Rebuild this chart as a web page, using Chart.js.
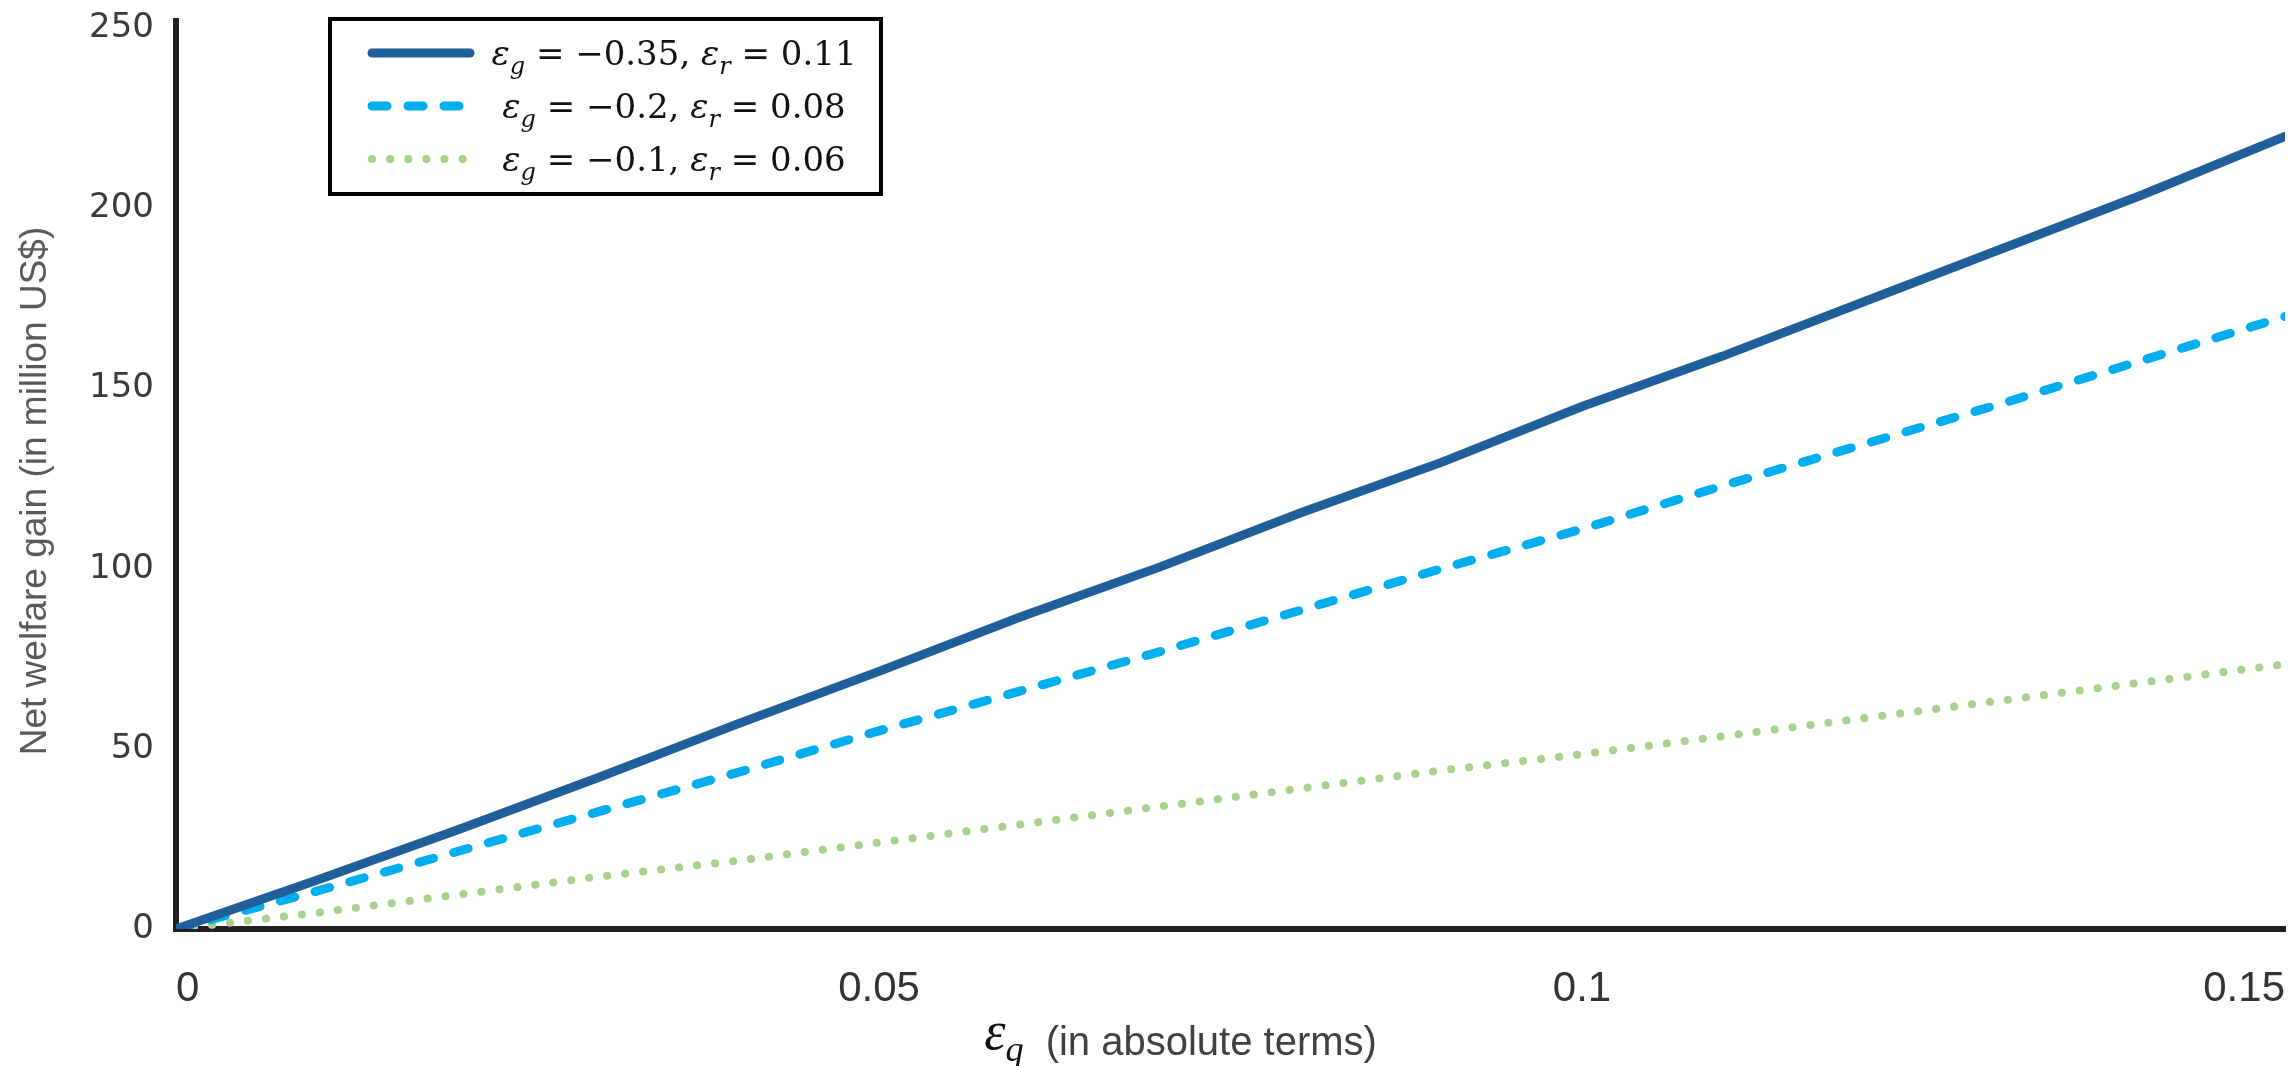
<!DOCTYPE html>
<html>
<head>
<meta charset="utf-8">
<script src="https://cdn.jsdelivr.net/npm/chart.js@4.4.0/dist/chart.umd.min.js"></script>
<style>
  html, body { margin: 0; padding: 0; background: #fff; }
  #wrap { width: 2292px; height: 1066px; }
</style>
</head>
<body>
<div id="wrap"><canvas id="welfareChart" width="2292" height="1066"></canvas></div>
<script>
// Elasticity of demand (absolute terms) on the x axis
var epsQ = [0, 0.01, 0.02, 0.03, 0.04, 0.05, 0.06, 0.07, 0.08, 0.09, 0.1, 0.11, 0.12, 0.13, 0.14, 0.15];

// Net welfare gain, million US$, one array per scenario
var gainHigh = [0, 13.5, 27.5, 42, 57, 71.5, 86.5, 100.5, 115.5, 129.5, 145, 159, 174, 189, 204, 220];
var gainMid = [0, 10.5, 21.5, 32.5, 43.5, 55, 66, 77, 88.5, 100, 111, 123, 134.5, 146, 158, 170];
var gainLow = [0, 4.5, 9.5, 14.5, 19, 24, 29, 34, 39, 44, 48.5, 53.5, 58.5, 63.5, 68.5, 73.5];

var seriesLabels = ['ε_g = −0.35, ε_r = 0.11', 'ε_g = −0.2, ε_r = 0.08', 'ε_g = −0.1, ε_r = 0.06'];
var xTicks = [0, 0.05, 0.1, 0.15];
var yTicks = [0, 50, 100, 150, 200, 250];
var yTitleText = 'Net welfare gain (in million US$)';

function toPoints(ys) {
  return ys.map(function (y, i) { return { x: epsQ[i], y: y }; });
}

var mathFamily = '"DejaVu Serif", "Liberation Serif", serif';
var sansFamily = '"Liberation Sans Narrow", "Liberation Sans", sans-serif';

// draws text like "ε_g = 0.1" with italic epsilon and a subscript
function drawMath(ctx, text, cx, baseY, size) {
  var tokens = text.split(/(ε_\w)/).filter(function (t) { return t.length; });
  var mainFont = size + 'px ' + mathFamily;
  var italFont = 'italic ' + size + 'px ' + mathFamily;
  var subFont = 'italic ' + Math.round(size * 0.72) + 'px ' + mathFamily;
  var pieces = [];
  tokens.forEach(function (t) {
    if (/^ε_\w$/.test(t)) {
      pieces.push({ s: 'ε', font: italFont, dy: 0 });
      pieces.push({ s: t.charAt(2), font: subFont, dy: size * 0.25 });
    } else {
      pieces.push({ s: t, font: mainFont, dy: 0 });
    }
  });
  var total = 0;
  pieces.forEach(function (p) { ctx.font = p.font; p.w = ctx.measureText(p.s).width; total += p.w; });
  var x = cx - total / 2;
  ctx.textAlign = 'left';
  ctx.textBaseline = 'alphabetic';
  pieces.forEach(function (p) {
    ctx.font = p.font;
    ctx.fillText(p.s, x, baseY + p.dy);
    x += p.w;
  });
}

// boxed legend in the upper left, like the original figure
var boxLegend = {
  id: 'boxLegend',
  afterDraw: function (chart) {
    var ctx = chart.ctx;
    ctx.save();
    ctx.lineWidth = 4;
    ctx.strokeStyle = '#000';
    ctx.strokeRect(330, 19, 551, 175);
    chart.data.datasets.forEach(function (ds, i) {
      var y = 53 + i * 53;
      ctx.beginPath();
      ctx.strokeStyle = ds.borderColor;
      ctx.lineWidth = ds.borderWidth;
      ctx.lineCap = 'round';
      ctx.setLineDash(ds.borderDash || []);
      ctx.moveTo(372, y);
      ctx.lineTo(470, y);
      ctx.stroke();
      ctx.setLineDash([]);
      ctx.fillStyle = '#111';
      drawMath(ctx, ds.label, 674, y + 12, 34);
    });
    ctx.restore();
  }
};

// axis titles: x with a subscripted epsilon, y rotated
var axisTitles = {
  id: 'axisTitles',
  afterDraw: function (chart) {
    var ctx = chart.ctx;
    var area = chart.chartArea;
    var cx = (area.left + area.right) / 2 - 50;
    var base = 1055;
    var epsFont = 'italic 54px "Liberation Serif", serif';
    var qFont = 'italic 36px "Liberation Serif", serif';
    var restFont = '40px ' + sansFamily;
    var rest = '  (in absolute terms)';
    ctx.save();
    ctx.textAlign = 'left';
    ctx.textBaseline = 'alphabetic';
    ctx.font = epsFont;
    var w1 = ctx.measureText('ε').width;
    ctx.font = qFont;
    var w2 = ctx.measureText('q').width;
    ctx.font = restFont;
    var w3 = ctx.measureText(rest).width;
    var x = cx - (w1 + w2 + w3) / 2;
    ctx.fillStyle = '#111';
    ctx.font = epsFont;
    ctx.fillText('ε', x, base - 6);
    ctx.font = qFont;
    ctx.fillText('q', x + w1, base + 6);
    ctx.fillStyle = '#404040';
    ctx.font = restFont;
    ctx.fillText(rest, x + w1 + w2, base);

    // y title, centred a little below the middle of the plot
    ctx.translate(36, (area.top + area.bottom) / 2 + 16);
    ctx.rotate(-Math.PI / 2);
    ctx.textAlign = 'center';
    ctx.textBaseline = 'middle';
    ctx.fillStyle = '#595959';
    ctx.font = '37px ' + sansFamily;
    ctx.fillText(yTitleText, 0, 0);
    ctx.restore();
  }
};

var ctx = document.getElementById('welfareChart').getContext('2d');

var welfareChart = new Chart(ctx, {
  type: 'line',
  data: {
    datasets: [{
      label: seriesLabels[0],
      data: toPoints(gainHigh),
      borderColor: '#215f9a',
      borderWidth: 9,
      borderCapStyle: 'round'
    }, {
      label: seriesLabels[1],
      data: toPoints(gainMid),
      borderColor: '#00aeef',
      borderWidth: 9,
      borderDash: [15, 21],
      borderCapStyle: 'round'
    }, {
      label: seriesLabels[2],
      data: toPoints(gainLow),
      borderColor: '#a9d18e',
      borderWidth: 8,
      borderDash: [0.1, 18],
      borderCapStyle: 'round'
    }]
  },
  options: {
    responsive: false,
    animation: false,
    devicePixelRatio: 1,
    layout: { padding: { top: 21, right: 7, bottom: 0, left: 0 } },
    elements: { point: { radius: 0 }, line: { tension: 0 } },
    plugins: {
      legend: { display: false },
      tooltip: { enabled: false }
    },
    scales: {
      x: {
        type: 'linear',
        min: 0,
        max: 0.15,
        grid: { display: false, drawTicks: false },
        border: { display: true, color: '#231f20', width: 6 },
        ticks: {
          align: 'inner',
          padding: 35,
          color: '#333',
          font: { family: sansFamily, size: 42 },
          callback: function (v) { return String(+v.toFixed(2)); }
        },
        afterBuildTicks: function (scale) {
          scale.ticks = xTicks.map(function (v) { return { value: v }; });
        },
        afterFit: function (scale) {
          scale.height = 137;
          scale.paddingLeft = 0;
          scale.paddingRight = 0;
        }
      },
      y: {
        min: 0,
        max: 252,
        grid: { display: false, drawTicks: false },
        border: { display: true, color: '#231f20', width: 6 },
        ticks: {
          padding: 22,
          color: '#3a3a3a',
          font: { family: '"DejaVu Sans", sans-serif', size: 34 }
        },
        afterBuildTicks: function (scale) {
          scale.ticks = yTicks.map(function (v) { return { value: v }; });
        },
        afterFit: function (scale) {
          scale.width = 176;
          scale.paddingTop = 0;
          scale.paddingBottom = 0;
        }
      }
    }
  },
  plugins: [boxLegend, axisTitles]
});
</script>
</body>
</html>
